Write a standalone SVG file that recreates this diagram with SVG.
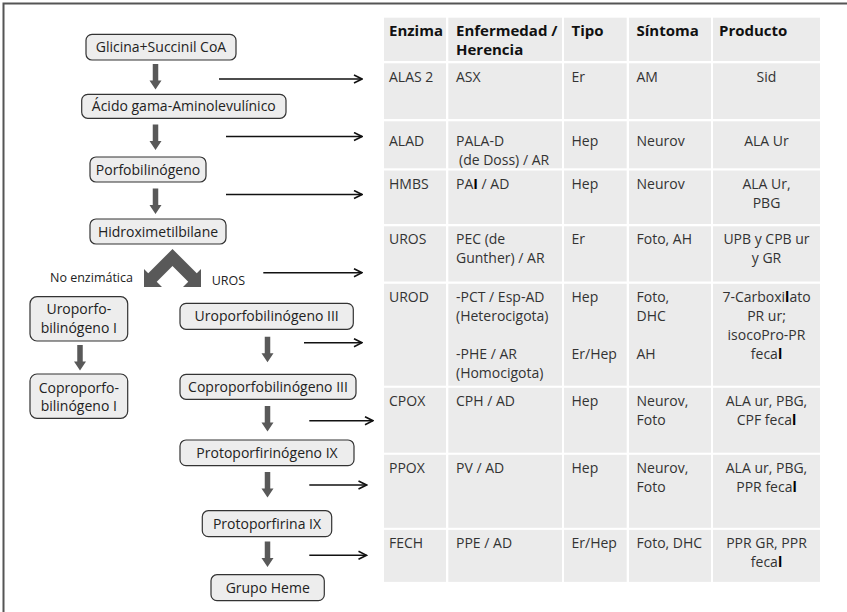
<svg xmlns="http://www.w3.org/2000/svg" width="847" height="612" viewBox="0 0 847 612">
<style>
.box{fill:#ededed;stroke:#333;stroke-width:1.2}
.bt{font-family:"Open Sans","Liberation Sans",sans-serif;font-size:14px;fill:#222;text-anchor:middle}
.lb{font-family:"Open Sans","Liberation Sans",sans-serif;font-size:12.5px;fill:#222}
.cell{fill:#ebebeb}
.th{font-family:"Open Sans","Liberation Sans",sans-serif;font-size:15px;font-weight:bold;fill:#111}
.td{font-family:"Open Sans","Liberation Sans",sans-serif;font-size:14px;fill:#333}
.c{text-anchor:middle}
.ga{fill:#595959}
.conn{stroke:#111;stroke-width:1.6;fill:none;marker-end:url(#ah)}
.b{font-weight:bold;fill:#000}
</style>
<defs>
<marker id="ah" viewBox="0 0 10 10" refX="9" refY="5" markerWidth="10" markerHeight="10" markerUnits="userSpaceOnUse" orient="auto">
<path d="M1,1 L9,5 L1,9" fill="none" stroke="#111" stroke-width="1.6"/>
</marker>
<path id="down" d="M-2.75,0 H2.75 V16.5 H6 L0,25.5 L-6,16.5 H-2.75 Z"/>
</defs>
<rect width="847" height="612" fill="#fff"/>
<path d="M3.5,612 V3.5 H847" fill="none" stroke="#555" stroke-width="2"/>

<!-- Flowchart nodes -->
<g id="n-glicina"><rect class="box" x="86" y="34.3" width="150" height="25.7" rx="6"/><text class="bt" x="161" y="52">Glicina+Succinil CoA</text></g>
<g id="n-ala"><rect class="box" x="81.7" y="94.3" width="204.3" height="24" rx="6"/><text class="bt" x="183.8" y="111.3">Ácido gama-Aminolevulínico</text></g>
<g id="n-pbg"><rect class="box" x="90" y="157" width="116" height="25" rx="6"/><text class="bt" x="148" y="174.5">Porfobilinógeno</text></g>
<g id="n-hmb"><rect class="box" x="90" y="219" width="136" height="25" rx="6"/><text class="bt" x="158" y="236.5">Hidroximetilbilane</text></g>
<g id="n-uro1"><rect class="box" x="30" y="296.7" width="97.7" height="44.3" rx="7"/><text class="bt" x="78.8" y="314">Uroporfo-</text><text class="bt" x="78.8" y="332.7">bilinógeno I</text></g>
<g id="n-uro3"><rect class="box" x="180" y="303.3" width="173.3" height="26" rx="6"/><text class="bt" x="266.7" y="321.3">Uroporfobilinógeno III</text></g>
<g id="n-copro1"><rect class="box" x="30" y="374" width="97.7" height="44.3" rx="7"/><text class="bt" x="78.8" y="392.5">Coproporfo-</text><text class="bt" x="78.8" y="411.2">bilinógeno I</text></g>
<g id="n-copro3"><rect class="box" x="180" y="374.3" width="176" height="25" rx="6"/><text class="bt" x="268" y="391.8">Coproporfobilinógeno III</text></g>
<g id="n-protogen"><rect class="box" x="180" y="440" width="174" height="25.7" rx="6"/><text class="bt" x="267" y="457.8">Protoporfirinógeno IX</text></g>
<g id="n-proto"><rect class="box" x="202.3" y="510.7" width="129.4" height="26" rx="6"/><text class="bt" x="267" y="528.7">Protoporfirina IX</text></g>
<g id="n-heme"><rect class="box" x="211" y="574.7" width="113.3" height="26" rx="6"/><text class="bt" x="267.7" y="592.7">Grupo Heme</text></g>

<!-- Flow arrows -->
<g id="flow-arrows" class="ga">
<use href="#down" x="155.5" y="64"/>
<use href="#down" x="155.5" y="124.5"/>
<use href="#down" x="155.5" y="188.5"/>
<path d="M172.5,249 L148.25,273.25 L144,269 L144,287 L162,287 L156.75,281.75 L172.5,266 L188.25,281.75 L183,287 L201,287 L201,269 L196.75,273.25 Z"/>
<use href="#down" x="80" y="345"/>
<use href="#down" x="267.5" y="336.7"/>
<use href="#down" x="267.5" y="406"/>
<use href="#down" x="267.5" y="472"/>
<use href="#down" x="267.5" y="541.5"/>
</g>
<text class="lb" x="50" y="282">No enzimática</text>
<text class="lb" x="211.7" y="284.5">UROS</text>

<!-- Connectors to table -->
<g id="connectors">
<line class="conn" x1="219" y1="79" x2="362" y2="79"/>
<line class="conn" x1="226" y1="136.5" x2="362" y2="136.5"/>
<line class="conn" x1="226" y1="194.5" x2="362" y2="194.5"/>
<line class="conn" x1="263.3" y1="272.7" x2="362" y2="272.7"/>
<line class="conn" x1="304" y1="342.7" x2="362" y2="342.7"/>
<line class="conn" x1="309.3" y1="420.7" x2="373" y2="420.7"/>
<line class="conn" x1="309.3" y1="485" x2="366.5" y2="485"/>
<line class="conn" x1="309.3" y1="555.3" x2="366.5" y2="555.3"/>
</g>

<!-- Table -->
<g id="table">
<g id="cells">
<rect class="cell" x="384" y="17.7" width="62" height="43.3"/><rect class="cell" x="448.3" y="17.7" width="113.7" height="43.3"/><rect class="cell" x="564" y="17.7" width="62.7" height="43.3"/><rect class="cell" x="629" y="17.7" width="82" height="43.3"/><rect class="cell" x="713" y="17.7" width="107" height="43.3"/>
<rect class="cell" x="384" y="63.3" width="62" height="55.7"/><rect class="cell" x="448.3" y="63.3" width="113.7" height="55.7"/><rect class="cell" x="564" y="63.3" width="62.7" height="55.7"/><rect class="cell" x="629" y="63.3" width="82" height="55.7"/><rect class="cell" x="713" y="63.3" width="107" height="55.7"/>
<rect class="cell" x="384" y="121.3" width="62" height="47"/><rect class="cell" x="448.3" y="121.3" width="113.7" height="47"/><rect class="cell" x="564" y="121.3" width="62.7" height="47"/><rect class="cell" x="629" y="121.3" width="82" height="47"/><rect class="cell" x="713" y="121.3" width="107" height="47"/>
<rect class="cell" x="384" y="170.5" width="62" height="53.5"/><rect class="cell" x="448.3" y="170.5" width="113.7" height="53.5"/><rect class="cell" x="564" y="170.5" width="62.7" height="53.5"/><rect class="cell" x="629" y="170.5" width="82" height="53.5"/><rect class="cell" x="713" y="170.5" width="107" height="53.5"/>
<rect class="cell" x="384" y="226.3" width="62" height="55.2"/><rect class="cell" x="448.3" y="226.3" width="113.7" height="55.2"/><rect class="cell" x="564" y="226.3" width="62.7" height="55.2"/><rect class="cell" x="629" y="226.3" width="82" height="55.2"/><rect class="cell" x="713" y="226.3" width="107" height="55.2"/>
<rect class="cell" x="384" y="283.8" width="62" height="101.9"/><rect class="cell" x="448.3" y="283.8" width="113.7" height="101.9"/><rect class="cell" x="564" y="283.8" width="62.7" height="101.9"/><rect class="cell" x="629" y="283.8" width="82" height="101.9"/><rect class="cell" x="713" y="283.8" width="107" height="101.9"/>
<rect class="cell" x="384" y="387.8" width="62" height="64.9"/><rect class="cell" x="448.3" y="387.8" width="113.7" height="64.9"/><rect class="cell" x="564" y="387.8" width="62.7" height="64.9"/><rect class="cell" x="629" y="387.8" width="82" height="64.9"/><rect class="cell" x="713" y="387.8" width="107" height="64.9"/>
<rect class="cell" x="384" y="454.8" width="62" height="73"/><rect class="cell" x="448.3" y="454.8" width="113.7" height="73"/><rect class="cell" x="564" y="454.8" width="62.7" height="73"/><rect class="cell" x="629" y="454.8" width="82" height="73"/><rect class="cell" x="713" y="454.8" width="107" height="73"/>
<rect class="cell" x="384" y="529.9" width="62" height="52"/><rect class="cell" x="448.3" y="529.9" width="113.7" height="52"/><rect class="cell" x="564" y="529.9" width="62.7" height="52"/><rect class="cell" x="629" y="529.9" width="82" height="52"/><rect class="cell" x="713" y="529.9" width="107" height="52"/>
</g>
<g id="header">
<text class="th" x="389" y="36">Enzima</text>
<text class="th" x="456" y="36">Enfermedad /</text>
<text class="th" x="456" y="55">Herencia</text>
<text class="th" x="571.5" y="36">Tipo</text>
<text class="th" x="636.5" y="36">Síntoma</text>
<text class="th" x="719" y="36">Producto</text>
</g>
<g id="row-alas">
<text class="td" x="389" y="82">ALAS 2</text><text class="td" x="456" y="82">ASX</text><text class="td" x="571.5" y="82">Er</text><text class="td" x="636.5" y="82">AM</text><text class="td c" x="766.5" y="82">Sid</text>
</g>
<g id="row-alad">
<text class="td" x="389" y="146">ALAD</text><text class="td" x="456" y="146">PALA-D</text><text class="td" x="459" y="164.5">(de Doss) / AR</text><text class="td" x="571.5" y="146">Hep</text><text class="td" x="636.5" y="146">Neurov</text><text class="td c" x="766.5" y="146">ALA Ur</text>
</g>
<g id="row-hmbs">
<text class="td" x="389" y="189">HMBS</text><text class="td" x="456" y="189">PA<tspan class="b">I</tspan> / AD</text><text class="td" x="571.5" y="189">Hep</text><text class="td" x="636.5" y="189">Neurov</text><text class="td c" x="766.5" y="189">ALA Ur,</text><text class="td c" x="766.5" y="208">PBG</text>
</g>
<g id="row-uros">
<text class="td" x="389" y="244">UROS</text><text class="td" x="456" y="244">PEC (de</text><text class="td" x="456" y="263">Gunther) / AR</text><text class="td" x="571.5" y="244">Er</text><text class="td" x="636.5" y="244">Foto, AH</text><text class="td c" x="766.5" y="244">UPB y CPB ur</text><text class="td c" x="766.5" y="263">y GR</text>
</g>
<g id="row-urod">
<text class="td" x="389" y="302">UROD</text><text class="td" x="456" y="302">-PCT / Esp-AD</text><text class="td" x="456" y="321">(Heterocigota)</text><text class="td" x="456" y="359">-PHE / AR</text><text class="td" x="456" y="378">(Homocigota)</text>
<text class="td" x="571.5" y="302">Hep</text><text class="td" x="571.5" y="359">Er/Hep</text>
<text class="td" x="636.5" y="302">Foto,</text><text class="td" x="636.5" y="321">DHC</text><text class="td" x="636.5" y="359">AH</text>
<text class="td c" x="766.5" y="302">7-Carboxi<tspan class="b">l</tspan>ato</text><text class="td c" x="766.5" y="321">PR ur;</text><text class="td c" x="766.5" y="340">isocoPro-PR</text><text class="td c" x="766.5" y="359">feca<tspan class="b">l</tspan></text>
</g>
<g id="row-cpox">
<text class="td" x="389" y="406">CPOX</text><text class="td" x="456" y="406">CPH / AD</text><text class="td" x="571.5" y="406">Hep</text><text class="td" x="636.5" y="406">Neurov,</text><text class="td" x="636.5" y="425">Foto</text><text class="td c" x="766.5" y="406">ALA ur, PBG,</text><text class="td c" x="766.5" y="425">CPF feca<tspan class="b">l</tspan></text>
</g>
<g id="row-ppox">
<text class="td" x="389" y="472.5">PPOX</text><text class="td" x="456" y="472.5">PV / AD</text><text class="td" x="571.5" y="472.5">Hep</text><text class="td" x="636.5" y="472.5">Neurov,</text><text class="td" x="636.5" y="491.5">Foto</text><text class="td c" x="766.5" y="472.5">ALA ur, PBG,</text><text class="td c" x="766.5" y="491.5">PPR feca<tspan class="b">l</tspan></text>
</g>
<g id="row-fech">
<text class="td" x="389" y="548">FECH</text><text class="td" x="456" y="548">PPE / AD</text><text class="td" x="571.5" y="548">Er/Hep</text><text class="td" x="636.5" y="548">Foto, DHC</text><text class="td c" x="766.5" y="548">PPR GR, PPR</text><text class="td c" x="766.5" y="567">feca<tspan class="b">l</tspan></text>
</g>
</g>
</svg>
